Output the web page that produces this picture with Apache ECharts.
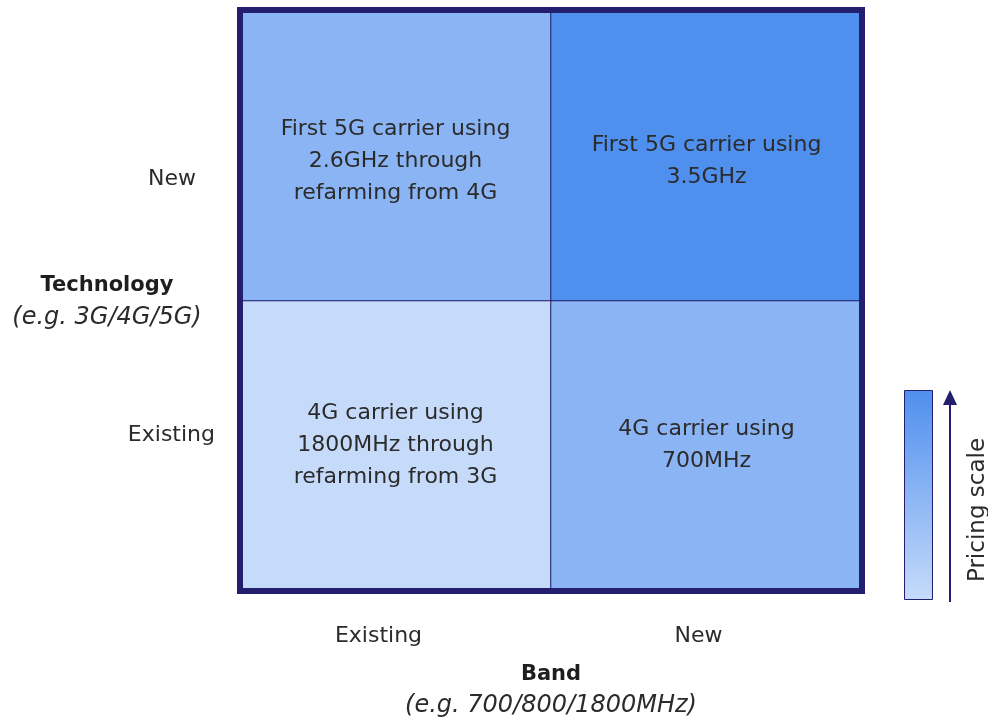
<!DOCTYPE html>
<html>
<head>
<meta charset="utf-8">
<script src="https://cdn.jsdelivr.net/npm/echarts@6/dist/echarts.min.js"></script>
<style>
  html, body { margin: 0; padding: 0; background: #fff; }
  #chart { width: 988px; height: 722px; }
</style>
</head>
<body>
<div id="chart"></div>
<script>
// Axis categories
const bands = ['Existing', 'New'];
const technologies = ['Existing', 'New'];

// Pricing level per cell (band index, technology index, level)
const bandIndex = [0, 1, 0, 1];
const techIndex = [0, 0, 1, 1];
const pricingLevel = [1, 2, 2, 3];
const cellText = [
  '4G carrier using\n1800MHz through\nrefarming from 3G',
  '4G carrier using\n700MHz',
  'First 5G carrier using\n2.6GHz through\nrefarming from 4G',
  'First 5G carrier using\n3.5GHz'
];

const NAVY = '#231f6e';
const FONT = '"DejaVu Sans", "Liberation Sans", sans-serif';
const TEXT = '#2b2b2b';

const data = pricingLevel.map((v, i) => ({
  value: [bandIndex[i], techIndex[i], v],
  name: cellText[i],
  // upper row text sits a little lower in its cell
  label: techIndex[i] === 1 ? { offset: [0, 6] } : {}
}));

// per-label nudges for the axis labels
const xLabelPad = [[0, 34, 0, 0], [0, 16, 0, 0]];
const yLabelStyle = [
  { verticalAlign: 'bottom', lineHeight: 20 },
  { verticalAlign: 'top', lineHeight: 48, padding: [0, 19, 0, 0] }
];

const chart = echarts.init(document.getElementById('chart'), null, { renderer: 'canvas' });

chart.setOption({
  animation: false,
  backgroundColor: '#ffffff',
  grid: {
    left: 240, right: 126, top: 10, bottom: 131,
    show: true, borderColor: NAVY, borderWidth: 6, backgroundColor: 'transparent', z: 5
  },
  xAxis: {
    type: 'category',
    data: bands.map((b, i) => ({ value: b, textStyle: { padding: xLabelPad[i] } })),
    axisLine: { show: false },
    axisTick: { show: false },
    axisLabel: { margin: 34, fontSize: 22, color: TEXT, fontFamily: FONT }
  },
  yAxis: {
    type: 'category',
    data: technologies.map((t, i) => ({ value: t, textStyle: yLabelStyle[i] })),
    axisLine: { show: false },
    axisTick: { show: false },
    axisLabel: { margin: 25, fontSize: 22, color: TEXT, fontFamily: FONT }
  },
  visualMap: {
    show: false,
    type: 'piecewise',
    dimension: 2,
    pieces: [
      { value: 1, color: '#c6dbfa' },
      { value: 2, color: '#8ab4f4' },
      { value: 3, color: '#4f8fee' }
    ]
  },
  series: [{
    type: 'heatmap',
    data: data,
    itemStyle: { borderColor: NAVY, borderWidth: 1 },
    emphasis: { disabled: true },
    label: {
      show: true,
      formatter: p => p.name,
      fontSize: 22,
      lineHeight: 32,
      color: TEXT,
      fontFamily: FONT,
      align: 'center'
    }
  }],
  graphic: [
    {
      type: 'text', x: 107, y: 286,
      style: { text: 'Technology', font: 'bold 21px ' + FONT, fill: '#1e1e1e', align: 'center', verticalAlign: 'middle' }
    },
    {
      type: 'text', x: 107, y: 318,
      style: { text: '(e.g. 3G/4G/5G)', font: 'italic 24px ' + FONT, fill: TEXT, align: 'center', verticalAlign: 'middle' }
    },
    {
      type: 'text', x: 551, y: 675,
      style: { text: 'Band', font: 'bold 21px ' + FONT, fill: '#1e1e1e', align: 'center', verticalAlign: 'middle' }
    },
    {
      type: 'text', x: 551, y: 706,
      style: { text: '(e.g. 700/800/1800MHz)', font: 'italic 24px ' + FONT, fill: TEXT, align: 'center', verticalAlign: 'middle' }
    },
    // Pricing scale bar
    {
      type: 'rect',
      shape: { x: 904.5, y: 390.5, width: 28, height: 209 },
      style: {
        fill: new echarts.graphic.LinearGradient(0, 0, 0, 1, [
          { offset: 0, color: '#4f8fee' },
          { offset: 1, color: '#c6dbfa' }
        ]),
        stroke: NAVY, lineWidth: 1
      }
    },
    {
      type: 'line',
      shape: { x1: 950, y1: 602, x2: 950, y2: 400 },
      style: { stroke: NAVY, lineWidth: 2 }
    },
    {
      type: 'polygon',
      shape: { points: [[950, 390], [943, 405], [957, 405]] },
      style: { fill: NAVY }
    },
    {
      type: 'text', x: 978, y: 510, rotation: Math.PI / 2,
      style: { text: 'Pricing scale', font: '23px ' + FONT, fill: TEXT, align: 'center', verticalAlign: 'middle' }
    }
  ]
});
</script>
</body>
</html>
